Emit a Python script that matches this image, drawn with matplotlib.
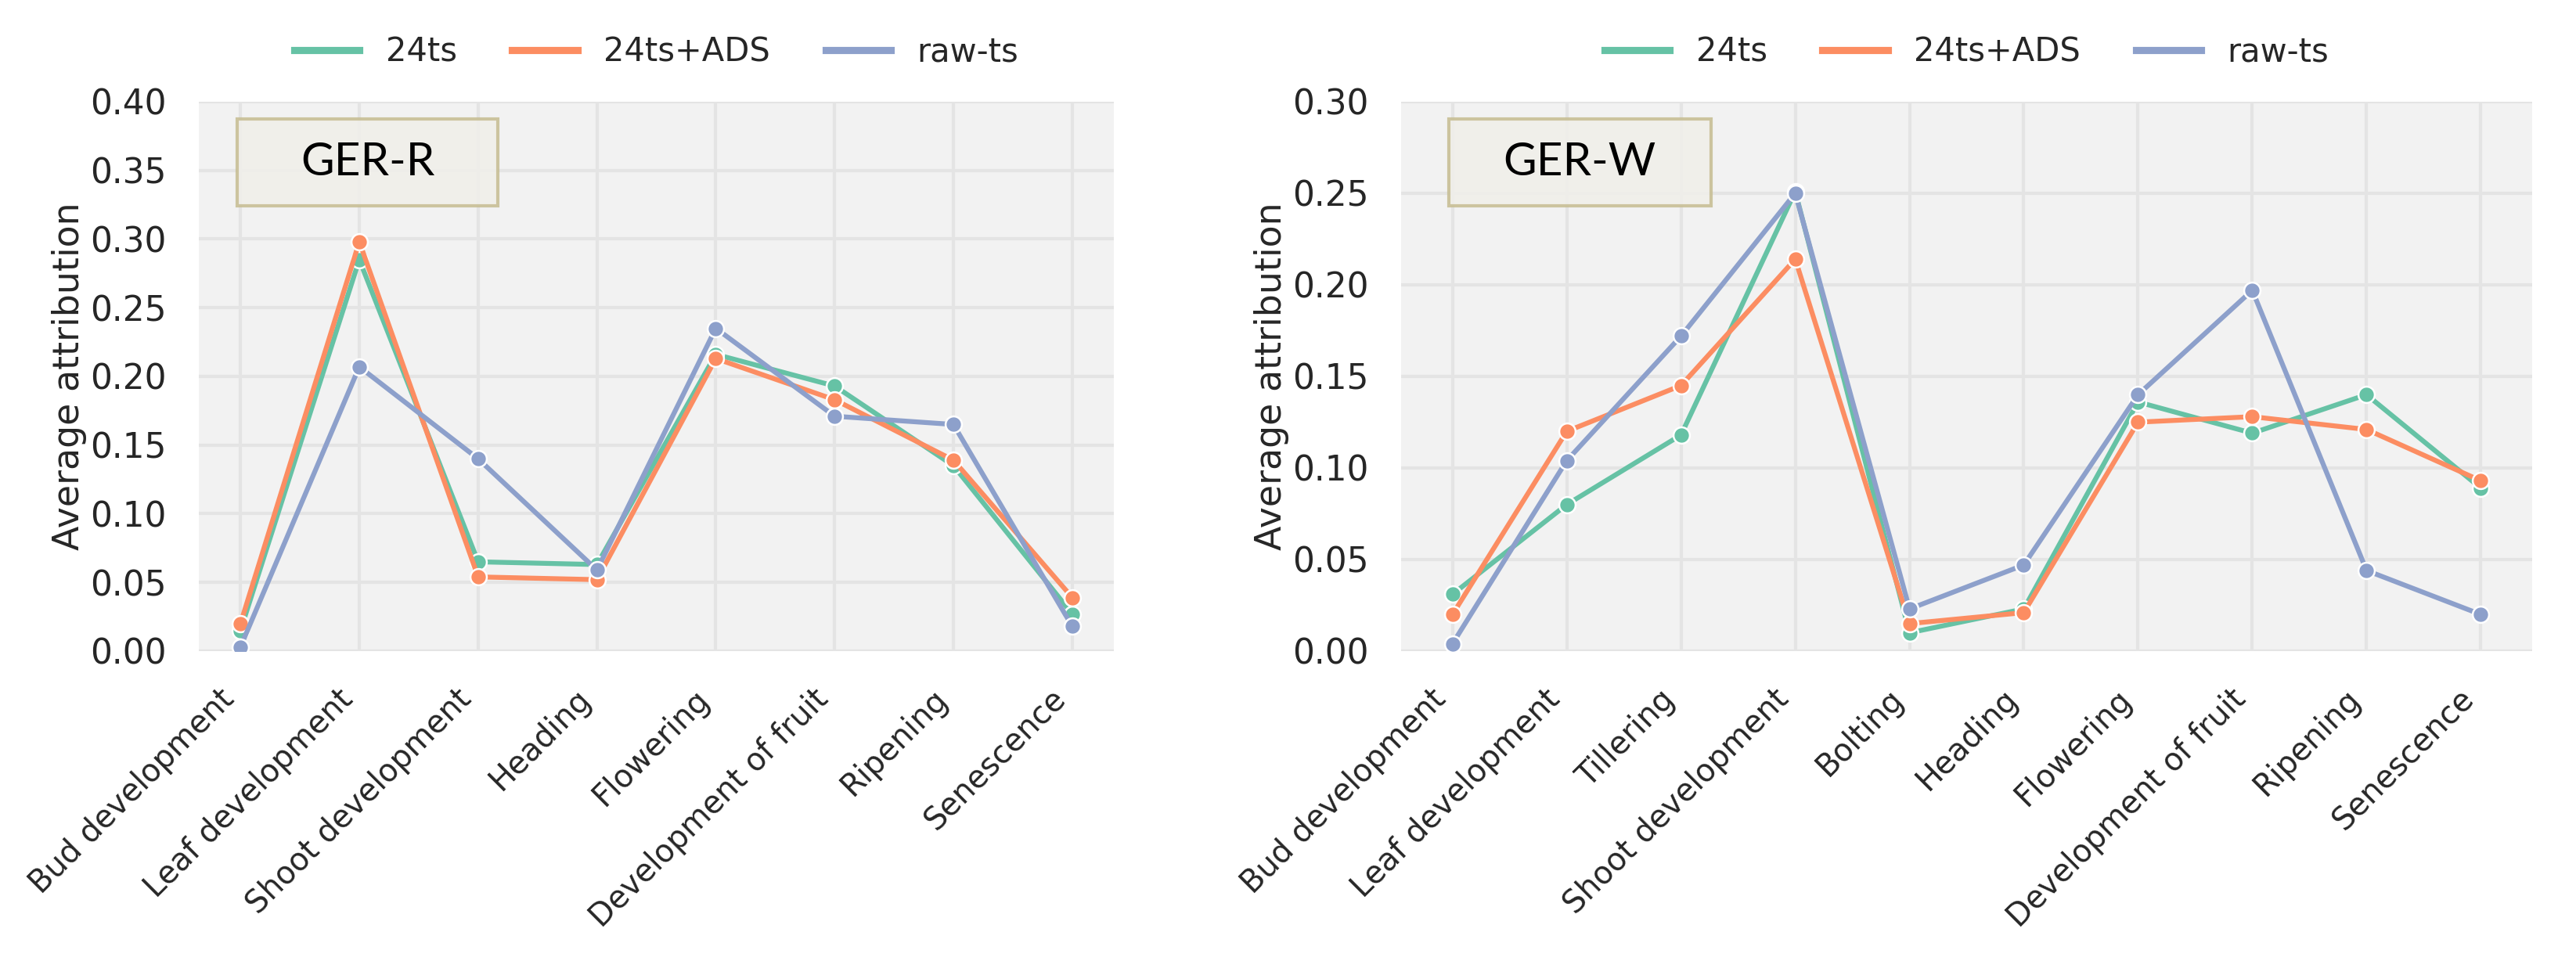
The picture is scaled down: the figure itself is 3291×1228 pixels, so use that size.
import matplotlib
matplotlib.use("Agg")
import matplotlib.pyplot as plt
from matplotlib.patches import Rectangle

# GER-R
stages_r = ["Bud development", "Leaf development", "Shoot development", "Heading",
            "Flowering", "Development of fruit", "Ripening", "Senescence"]
r_24ts = [0.015, 0.285, 0.065, 0.063, 0.216, 0.193, 0.135, 0.027]
r_24ts_ads = [0.020, 0.298, 0.054, 0.052, 0.213, 0.183, 0.139, 0.039]
r_raw = [0.003, 0.207, 0.140, 0.059, 0.235, 0.171, 0.165, 0.018]

# GER-W
stages_w = ["Bud development", "Leaf development", "Tillering", "Shoot development",
            "Bolting", "Heading", "Flowering", "Development of fruit", "Ripening",
            "Senescence"]
w_24ts = [0.031, 0.080, 0.118, 0.251, 0.010, 0.023, 0.136, 0.119, 0.140, 0.089]
w_24ts_ads = [0.020, 0.120, 0.145, 0.214, 0.015, 0.021, 0.125, 0.128, 0.121, 0.093]
w_raw = [0.004, 0.104, 0.172, 0.250, 0.023, 0.047, 0.140, 0.197, 0.044, 0.020]

series_names = ["24ts", "24ts+ADS", "raw-ts"]
colors = ["#66c2a5", "#fc8d62", "#8da0cb"]

plt.rcParams["font.family"] = "DejaVu Sans"
plt.rcParams["text.color"] = "#262626"

fig = plt.figure(figsize=(3291 / 300, 1228 / 300), dpi=300)
ax1 = fig.add_axes([0.0772, 0.3225, 0.3552, 0.5717])
ax2 = fig.add_axes([0.5439, 0.3225, 0.4391, 0.5717])

panels = [
    (ax1, stages_r, [r_24ts, r_24ts_ads, r_raw], 0.40, "GER-R", 0.285),
    (ax2, stages_w, [w_24ts, w_24ts_ads, w_raw], 0.30, "GER-W", 0.232),
]

for ax, stages, data, ymax, name, boxw in panels:
    ax.set_facecolor("#f2f2f2")
    ax.grid(True, color="#e4e4e4", linewidth=1.0)
    ax.set_axisbelow(True)
    for s in ax.spines.values():
        s.set_visible(False)
    x = list(range(len(stages)))
    for vals, lab, c in zip(data, series_names, colors):
        ax.plot(x, vals, color=c, lw=1.5, label=lab, marker="o", markersize=5,
                markeredgecolor="white", markeredgewidth=0.6)
    ax.set_ylim(0, ymax)
    ax.set_yticks([i * 0.05 for i in range(int(round(ymax / 0.05)) + 1)])
    ax.yaxis.set_major_formatter(matplotlib.ticker.FormatStrFormatter("%.2f"))
    ax.set_xticks(x)
    ax.set_xticklabels(stages, rotation=45, ha="right")
    ax.tick_params(length=0, pad=10, labelsize=10.5, colors="#262626")
    ax.tick_params(axis="x", labelsize=9.5)
    ax.set_ylabel("Average attribution", fontsize=11, color="#262626", labelpad=1)
    leg = ax.legend(loc="center", bbox_to_anchor=(0.5, 1.09), ncol=3,
                    frameon=False, fontsize=10, handlelength=2, columnspacing=1.7)
    for h in leg.get_lines():
        h.set_linewidth(2.2)
        h.set_marker("")
    ax.add_patch(Rectangle((0.042, 0.81), boxw, 0.158, transform=ax.transAxes,
                           facecolor="#f0efea", edgecolor="#c8bf96", lw=1.0,
                           zorder=5, alpha=0.9))
    ax.text(0.042 + boxw / 2, 0.889, name, transform=ax.transAxes, ha="center",
            va="center", fontsize=14, family="Lato", color="black", zorder=6)

fig.savefig("out.png", dpi=300)
